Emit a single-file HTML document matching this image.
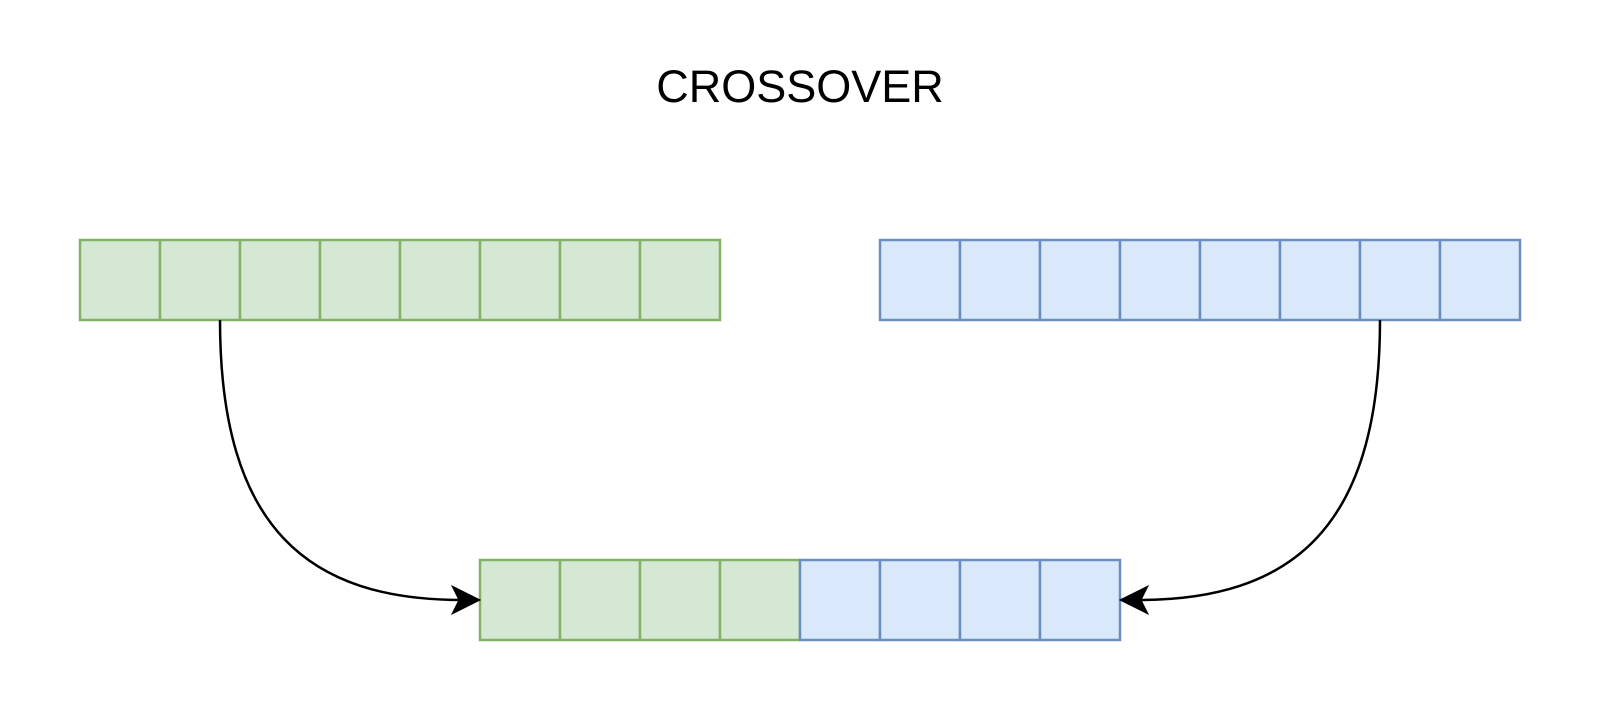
<!DOCTYPE html>
<html><head><meta charset="utf-8"><style>
html,body{margin:0;padding:0;background:#fff;width:1600px;height:720px;overflow:hidden}
</style></head><body>
<svg width="1600" height="720" viewBox="0 0 1600 720">
<text x="800" y="102" text-anchor="middle" font-family="Liberation Sans, sans-serif" font-size="45" fill="#000">CROSSOVER</text>
<g id="cells"></g>
<path d="M220 320 C220 530 310 600 462 600" fill="none" stroke="#000" stroke-width="2.5"/>
<path d="M1380 320 C1380 530 1290 600 1138 600" fill="none" stroke="#000" stroke-width="2.5"/>
<path d="M480 600 L452 586 L459 600 L452 614 Z" fill="#000" stroke="#000" stroke-width="1"/>
<path d="M1120 600 L1148 586 L1141 600 L1148 614 Z" fill="#000" stroke="#000" stroke-width="1"/>
</svg>
<script>
const g=document.getElementById('cells');
const G={f:'#d5e8d4',s:'#82b366'},B={f:'#dae8fc',s:'#6c8ebf'};
function row(x0,y,cols,name){
  cols.forEach((c,i)=>{
    const r=document.createElementNS('http://www.w3.org/2000/svg','rect');
    r.setAttribute('x',x0+i*80);r.setAttribute('y',y);r.setAttribute('width',80);r.setAttribute('height',80);
    r.setAttribute('fill',c.f);r.setAttribute('stroke',c.s);r.setAttribute('stroke-width',2.5);
    
    
    g.appendChild(r);
  });
}
row(80,240,Array(8).fill(G),'parent1');
row(880,240,Array(8).fill(B),'parent2');
row(480,560,[G,G,G,G,B,B,B,B],'child');
</script>
</body></html>
